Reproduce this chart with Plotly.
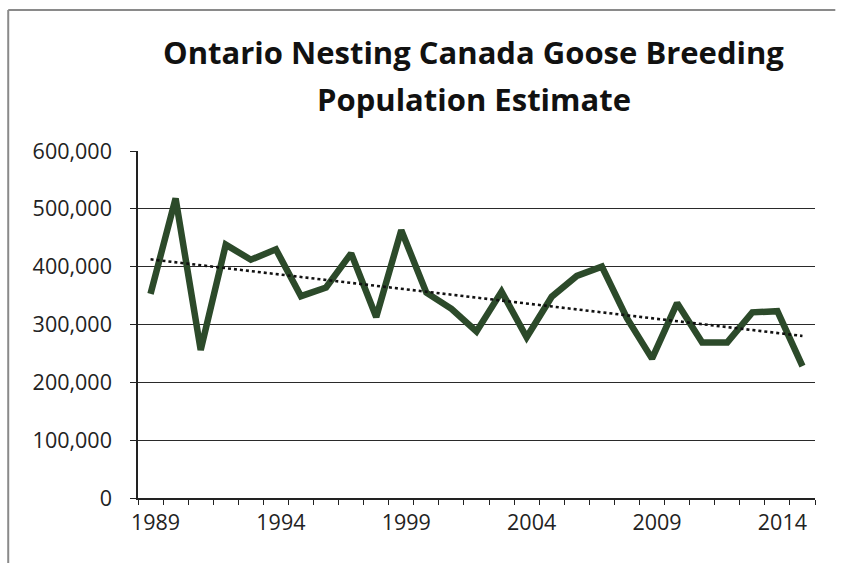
import numpy as np
import plotly.graph_objects as go

# Ontario nesting Canada goose breeding population, annual estimates
years = list(range(1989, 2016))
population = [
    353000, 518000, 256000, 438000, 412000, 430000, 349000, 364000, 423000,
    313000, 463000, 355000, 327000, 288000, 357000, 278000, 348000, 384000,
    400000, 311000, 241000, 337000, 269000, 269000, 321000, 323000, 228000,
]
label_years = [1989, 1994, 1999, 2004, 2009, 2014]
y_ticks = [0, 100000, 200000, 300000, 400000, 500000, 600000]
title_lines = ["Ontario Nesting Canada Goose Breeding", "Population Estimate"]

# Linear trend through the annual estimates
slope, intercept = np.polyfit(years, population, 1)
trend = [slope * yr + intercept for yr in years]

fig = go.Figure()
fig.add_trace(go.Scatter(
    x=years, y=population, mode="lines",
    line=dict(color="#2C4A2A", width=6.5),
    hoverinfo="x+y",
))
fig.add_trace(go.Scatter(
    x=years, y=trend, mode="lines",
    line=dict(color="#111111", width=2.6, dash="dot"),
    hoverinfo="skip",
))

axis_font = dict(family="'Open Sans', sans-serif", size=21.5, color="#222222")
title_font = dict(family="'Open Sans', sans-serif", size=31, color="#111111")

# Two-line heading, each line placed on its own
annotations = [
    dict(text=f"<b>{line}</b>", xref="paper", yref="paper", x=0.4956, y=ypos,
         xanchor="center", yanchor="middle", showarrow=False, font=title_font)
    for line, ypos in zip(title_lines, [1.2853, 1.1499])
]

fig.update_layout(
    width=850, height=563,
    margin=dict(l=138, r=35, t=151, b=65),
    paper_bgcolor="white", plot_bgcolor="white",
    showlegend=False,
    annotations=annotations,
    xaxis=dict(
        range=[1988.5, 2015.5],
        tickvals=label_years, ticktext=[str(v) for v in label_years],
        ticks="", showgrid=False,
        showline=True, linecolor="#222222", linewidth=1.5,
        tickfont=axis_font, ticklabelshift=5, ticklabelstandoff=4,
        minor=dict(tick0=1988.5, dtick=1, ticks="outside", ticklen=5,
                   tickcolor="#222222", tickwidth=1.2, showgrid=False),
        zeroline=False,
    ),
    yaxis=dict(
        range=[0, 600000], tickvals=y_ticks, tickformat=",",
        ticks="outside", ticklen=6, tickcolor="#222222", tickwidth=1.2,
        showgrid=True, gridcolor="#2a2a2a", gridwidth=1.3,
        showline=True, linecolor="#222222", linewidth=1.5,
        tickfont=axis_font, ticklabelstandoff=14, zeroline=False,
    ),
    shapes=[
        dict(type="line", xref="paper", yref="paper", x0=-0.1917, x1=1.030,
             y0=1.406, y1=1.406, line=dict(color="#8a8a8a", width=2)),
        dict(type="line", xref="paper", yref="paper", x0=-0.1917, x1=-0.1917,
             y0=1.406, y1=-0.25, line=dict(color="#8a8a8a", width=2)),
    ],
)

fig.write_html("out.html")
